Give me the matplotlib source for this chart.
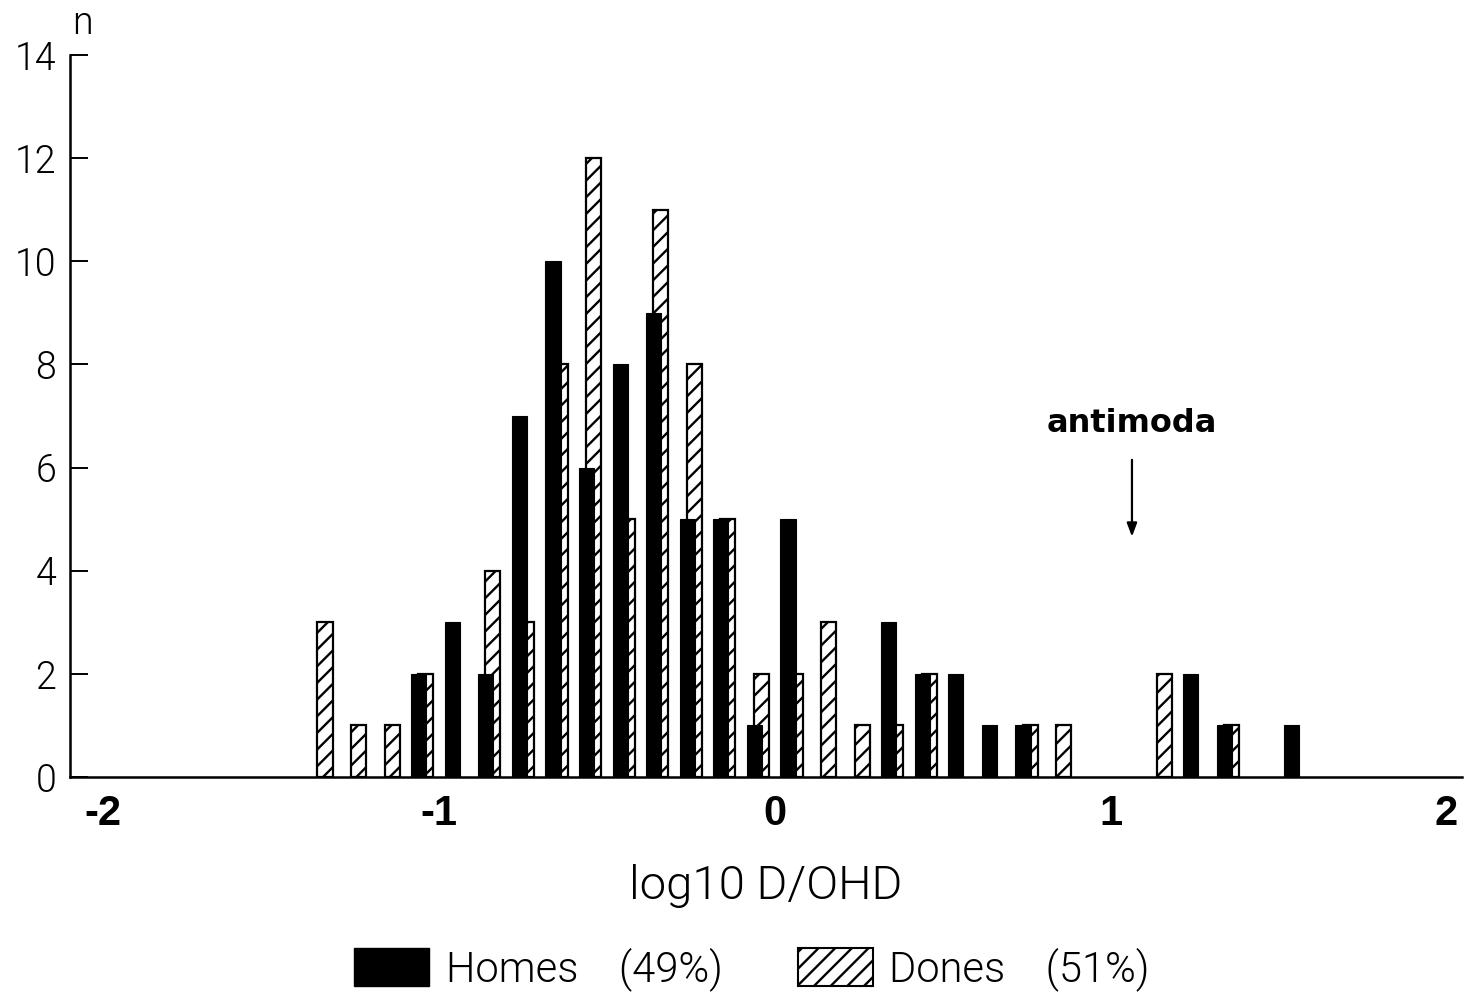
import matplotlib
matplotlib.use('Agg')
import matplotlib.pyplot as plt
from matplotlib import font_manager as fm
from matplotlib.patches import Patch
import numpy as np

# ---------------- data ----------------
bin_centers = [-1.35, -1.25, -1.15, -1.05, -0.95, -0.85, -0.75, -0.65, -0.55, -0.45,
               -0.35, -0.25, -0.15, -0.05, 0.05, 0.15, 0.25, 0.35, 0.45, 0.55,
               0.65, 0.75, 0.85, 0.95, 1.05, 1.15, 1.25, 1.35, 1.45, 1.55]
homes = [0, 0, 0, 2, 3, 2, 7, 10, 6, 8,
         9, 5, 5, 1, 5, 0, 0, 3, 2, 2,
         1, 1, 0, 0, 0, 0, 2, 1, 0, 1]
dones = [3, 1, 1, 2, 0, 4, 3, 8, 12, 5,
         11, 8, 5, 2, 2, 3, 1, 1, 2, 0,
         0, 1, 1, 0, 0, 2, 0, 1, 0, 0]
x_ticks = [-2, -1, 0, 1, 2]
x_tick_labels = ['-2', '-1', '0', '1', '2']
y_ticks = [0, 2, 4, 6, 8, 10, 12, 14]
y_tick_labels = ['0', '2', '4', '6', '8', '10', '12', '14']
legend_labels = ['Homes    (49%)', 'Dones    (51%)']
x_label = 'log10 D/OHD'
y_label = 'n'
annot_text = 'antimoda'
annot_x = 1.064
annot_text_y = 6.85
annot_arrow_start = 6.15
annot_arrow_end = 4.66


# ---------------- fonts ----------------
def find_light():
    for fam in ['Roboto', 'Open Sans', 'Lato', 'Inter', 'Noto Sans', 'DejaVu Sans']:
        for f in fm.fontManager.ttflist:
            w = f.weight if isinstance(f.weight, int) else fm.weight_dict.get(f.weight, 400)
            if f.name == fam and f.style == 'normal' and 250 <= w <= 350:
                return fm.FontProperties(fname=f.fname)
    return fm.FontProperties(family='Liberation Sans')


light = find_light()


def lp(size):
    p = light.copy()
    p.set_size(size)
    return p


bold_ticks = fm.FontProperties(family=['Liberation Sans', 'DejaVu Sans'], weight='bold', size=30)
bold_annot = fm.FontProperties(family='DejaVu Sans', weight='bold', size=23)

plt.rcParams['hatch.linewidth'] = 1.7

# ---------------- figure ----------------
fig = plt.figure(figsize=(14.67, 9.98), dpi=100)
ax = fig.add_axes([70 / 1467, 221 / 998, 1392 / 1467, 722 / 998])

xc = np.array(bin_centers)
h = np.array(homes, dtype=float)
d = np.array(dones, dtype=float)
w = 0.045
off = 0.0105

md = d > 0
ax.bar(xc[md] + off, d[md], width=w, facecolor='white', edgecolor='black',
       hatch='//', linewidth=1.6, zorder=2)
mh = h > 0
ax.bar(xc[mh] - off, h[mh], width=w, color='black', edgecolor='black',
       linewidth=0.8, zorder=3)

ax.set_xlim(-2.099, 2.047)
ax.set_ylim(0, 14)

for s in ['top', 'right']:
    ax.spines[s].set_visible(False)
for s in ['left', 'bottom']:
    ax.spines[s].set_linewidth(1.8)
    ax.spines[s].set_zorder(4)

ax.set_xticks(x_ticks, x_tick_labels, fontproperties=bold_ticks)
ax.set_yticks(y_ticks, y_tick_labels, fontproperties=lp(27))
ax.tick_params(axis='x', length=0, pad=12)
ax.tick_params(axis='y', direction='in', length=13, width=1.4, pad=10)

ax.set_xlabel(x_label, fontproperties=lp(34), labelpad=22)
ax.text(0.0086, 1.044, y_label, transform=ax.transAxes, ha='center', va='center',
        fontproperties=lp(27))

ax.annotate('', xy=(annot_x, annot_arrow_end), xytext=(annot_x, annot_arrow_start),
            arrowprops=dict(arrowstyle='-|>,head_length=0.8,head_width=0.3',
                            color='black', lw=1.6, shrinkA=0, shrinkB=0))
ax.text(annot_x, annot_text_y, annot_text, ha='center', va='center',
        fontproperties=bold_annot)

handles = [Patch(facecolor='black', edgecolor='black'),
           Patch(facecolor='white', edgecolor='black', hatch='//', linewidth=1.5)]
fig.legend(handles, legend_labels, loc='center', ncol=2,
           bbox_to_anchor=(752 / 1467, 1 - 969 / 998), frameon=False,
           prop=lp(30), handlelength=1.8, handleheight=1.0, handletextpad=0.4,
           columnspacing=1.8, borderpad=0)

fig.savefig('out.png', dpi=100)
